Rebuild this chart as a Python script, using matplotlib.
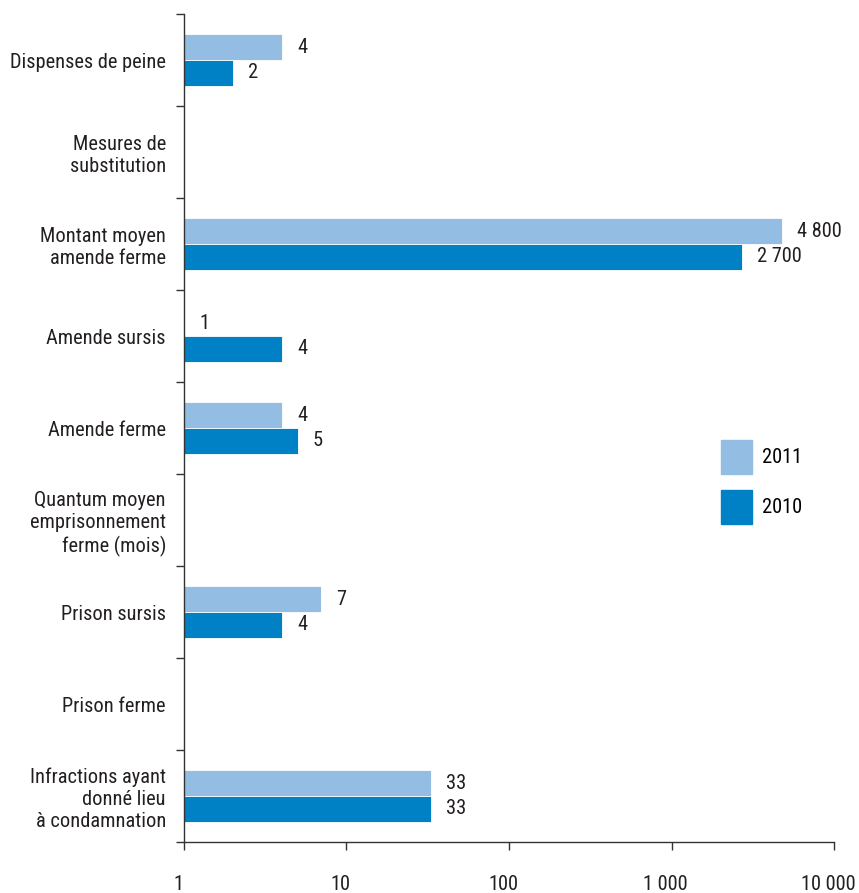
import numpy as np
import matplotlib
matplotlib.use("Agg")
import matplotlib.pyplot as plt
import matplotlib.transforms as mtransforms
from matplotlib.patches import Patch
from matplotlib.ticker import FixedLocator, NullFormatter

plt.rcParams['font.family'] = ['Roboto Condensed', 'Liberation Sans Narrow',
                               'Roboto', 'DejaVu Sans']

categories = [
    "Dispenses de peine",
    "Mesures de\nsubstitution",
    "Montant moyen\namende ferme",
    "Amende sursis",
    "Amende ferme",
    "Quantum moyen\nemprisonnement\nferme (mois)",
    "Prison sursis",
    "Prison ferme",
    "Infractions ayant\ndonné lieu\nà condamnation",
]
vals_2011 = [4, None, 4800, 1, 4, None, 7, None, 33]
vals_2010 = [2, None, 2700, 4, 5, None, 4, None, 33]
x_ticks = [1, 10, 100, 1000, 10000]
x_labels = ["1", "10", "100", "1 000", "10 000"]

light = "#93bde3"
dark = "#0081c6"
txt = "#231f20"
fs = 14.7


def fmt(v):
    return f"{v:,}".replace(",", " ")


fig = plt.figure(figsize=(8.59, 8.93), dpi=100)
ax = fig.add_axes([0.2142, 0.0571, 0.7567, 0.9272])

y = np.arange(len(categories))
h = 0.28
for vals, off, col in [(vals_2011, -h / 2, light), (vals_2010, h / 2, dark)]:
    for yi, v in zip(y, vals):
        if v is None:
            continue
        # bars start at the log axis origin (1) and end at the value
        ax.barh(yi + off, v - 1, height=h, left=1, color=col,
                edgecolor="white", linewidth=0.6)
        ax.annotate(fmt(v), xy=(v, yi + off), xytext=(11, 0),
                    textcoords="offset points", va="center", ha="left",
                    fontsize=fs, color=txt)

ax.set_xscale("log")
ax.set_xlim(1, 10000)
ax.set_ylim(len(categories) - 0.5, -0.5)

ax.set_xticks(x_ticks)
ax.set_xticklabels(x_labels)
ax.xaxis.set_minor_locator(FixedLocator([]))
ax.tick_params(axis="x", length=6, width=1, color="#333333", pad=18,
               labelsize=fs, labelcolor=txt)
# nudge the x labels a little to the left of their ticks
shift = mtransforms.ScaledTranslation(-6 / 100, 0, fig.dpi_scale_trans)
for lbl in ax.get_xticklabels():
    lbl.set_transform(lbl.get_transform() + shift)

ax.set_yticks(y)
ax.set_yticklabels(categories, fontsize=fs, color=txt, ma="right")
ax.tick_params(axis="y", which="major", length=0, pad=13)
ax.yaxis.set_minor_locator(FixedLocator(np.arange(-0.5, len(categories), 1)))
ax.yaxis.set_minor_formatter(NullFormatter())
ax.tick_params(axis="y", which="minor", length=6, width=1, color="#333333")

for s in ["top", "right"]:
    ax.spines[s].set_visible(False)
for s in ["left", "bottom"]:
    ax.spines[s].set_color("#333333")
    ax.spines[s].set_linewidth(1)

handles = [Patch(color=light, label="2011"), Patch(color=dark, label="2010")]
ax.legend(handles=handles, loc="upper left", bbox_to_anchor=(0.826, 0.4855),
          frameon=False, fontsize=fs, handlelength=1.52, handleheight=2.2,
          handletextpad=0.5, labelspacing=0.75, borderpad=0, borderaxespad=0)

fig.savefig("out.png", dpi=100)
